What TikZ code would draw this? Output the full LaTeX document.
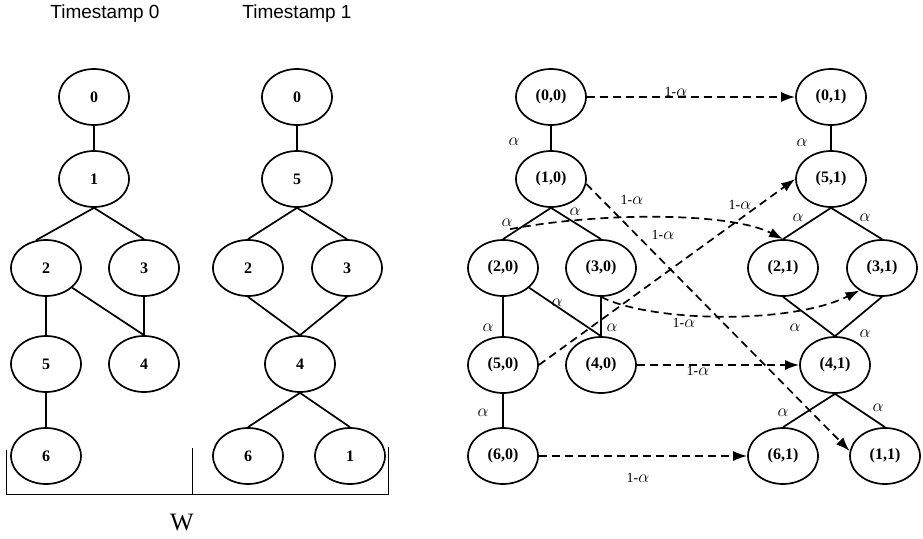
\documentclass[tikz,border=0pt]{standalone}
\usepackage{fontspec}
\setmainfont{Liberation Serif}
\newfontfamily\labelsans{Liberation Sans}
\usetikzlibrary{shapes.geometric,arrows.meta,calc}
% weight symbol, a little larger than the surrounding text
\newcommand\wgt{{\fontsize{18}{18}\selectfont$\alpha$}}

\begin{document}
\begin{tikzpicture}[x=1pt,y=-1pt,
  vtx/.style={ellipse,draw,line width=1.7pt,minimum width=70pt,minimum height=56pt,
    inner sep=0pt,font=\bfseries\fontsize{16}{16}\selectfont},
  edge/.style={line width=1.7pt},
  trans/.style={line width=1.7pt,dash pattern=on 8pt off 5pt,
    -{Latex[length=14pt,width=10pt]}},
  wt/.style={inner sep=0pt,font=\fontsize{14}{14}\selectfont},
  caption/.style={inner sep=0pt,anchor=base,font=\labelsans\fontsize{19}{19}\selectfont},
]
\useasboundingbox (0,0) rectangle (923,538);

% ---- tree at timestamp 0 ----
\node[caption] (cap0) at (105,18) {Timestamp 0};
\node[vtx] (a0) at (94,97) {0};
\node[vtx] (a1) at (94,179) {1};
\node[vtx] (a2) at (46,268) {2};
\node[vtx] (a3) at (144,268) {3};
\node[vtx] (a5) at (46,364) {5};
\node[vtx] (a4) at (144,364) {4};
\node[vtx] (a6) at (46,456) {6};
\draw[edge] (a0) -- (a1);
\draw[edge] (a1.south) -- (a2.110);
\draw[edge] (a1.south) -- (a3.north);
\draw[edge] (a2) -- (a5);
\draw[edge] (a2.-37) -- (a4.north);
\draw[edge] (a3) -- (a4);
\draw[edge] (a5) -- (a6);

% ---- tree at timestamp 1 ----
\node[caption] (cap1) at (297,18) {Timestamp 1};
\node[vtx] (b0) at (297,97) {0};
\node[vtx] (b5) at (297,179) {5};
\node[vtx] (b2) at (248,268) {2};
\node[vtx] (b3) at (347,268) {3};
\node[vtx] (b4) at (300,364) {4};
\node[vtx] (b6) at (248,456) {6};
\node[vtx] (b1) at (350,456) {1};
\draw[edge] (b0) -- (b5);
\draw[edge] (b5.south) -- (b2.north);
\draw[edge] (b5.south) -- (b3.north);
\draw[edge] (b2.south) -- (b4.north);
\draw[edge] (b3.south) -- (b4.north);
\draw[edge] (b4.south) -- (b6.north);
\draw[edge] (b4.south) -- (b1.north);

% ---- window bracket ----
\draw[line width=1pt] (6,450) -- (6,494) -- (388,494) -- (388,447);
\draw[line width=1pt] (192,448) -- (192,494);
\node[inner sep=0pt,anchor=base,font=\fontsize{25}{25}\selectfont] (wlab) at (182,530) {W};

% ---- combined graph: layer 0 ----
\node[vtx] (n00) at (551,97) {(0,0)};
\node[vtx] (n10) at (551,179) {(1,0)};
\node[vtx] (n20) at (503,268) {(2,0)};
\node[vtx] (n30) at (601,268) {(3,0)};
\node[vtx] (n50) at (503,365) {(5,0)};
\node[vtx] (n40) at (601,365) {(4,0)};
\node[vtx] (n60) at (503,456) {(6,0)};
\draw[edge] (n00) -- (n10);
\draw[edge] (n10.south) -- (n20.north);
\draw[edge] (n10.south) -- (n30.north);
\draw[edge] (n20) -- (n50);
\draw[edge] (n20.-37) -- (n40.north);
\draw[edge] (n30) -- (n40);
\draw[edge] (n50) -- (n60);

% ---- combined graph: layer 1 ----
\node[vtx] (n01) at (831,97) {(0,1)};
\node[vtx] (n51) at (831,179) {(5,1)};
\node[vtx] (n21) at (783,268) {(2,1)};
\node[vtx] (n31) at (882,268) {(3,1)};
\node[vtx] (n41) at (835,365) {(4,1)};
\node[vtx] (n61) at (783,456) {(6,1)};
\node[vtx] (n11) at (885,456) {(1,1)};
\draw[edge] (n01) -- (n51);
\draw[edge] (n51.south) -- (n21.north);
\draw[edge] (n51.south) -- (n31.north);
\draw[edge] (n21.south) -- (n41.north);
\draw[edge] (n31.south) -- (n41.north);
\draw[edge] (n41.south) -- (n61.north);
\draw[edge] (n41.south) -- (n11.north);

% ---- edge weights ----
\node[wt] (w1) at (514,142) {\wgt};
\node[wt] (w2) at (507,223) {\wgt};
\node[wt] (w3) at (575,212) {\wgt};
\node[wt] (w4) at (488,328) {\wgt};
\node[wt] (w5) at (557,303) {\wgt};
\node[wt] (w6) at (612,328) {\wgt};
\node[wt] (w7) at (483,413) {\wgt};
\node[wt] (w8) at (802,143) {\wgt};
\node[wt] (w9) at (798,218) {\wgt};
\node[wt] (w10) at (865,218) {\wgt};
\node[wt] (w11) at (795,328) {\wgt};
\node[wt] (w12) at (865,334) {\wgt};
\node[wt] (w13) at (783,413) {\wgt};
\node[wt] (w14) at (878,408) {\wgt};

% ---- transitions between layers ----
\draw[trans] (n00.east) -- (n01.west);
\draw[trans] (n10.-8) -- (n11.172);
\draw[trans] ($(n20.north)+(7,-10)$) .. controls (600,212) and (730,212) .. (n21.north);
\draw[trans] (n30.south) .. controls (650,322) and (790,325) .. (n31.225);
\draw[trans] (n40.east) -- (n41.west);
\draw[trans] (n50.east) -- (n51.west);
\draw[trans] (n60.east) -- (n61.west);

\node[wt] (t0) at (676,92) {1-\wgt};
\node[wt] (t1) at (632,200) {1-\wgt};
\node[wt] (t2) at (663,235) {1-\wgt};
\node[wt] (t5) at (740,205) {1-\wgt};
\node[wt] (t3) at (684,323) {1-\wgt};
\node[wt] (t4) at (698,371) {1-\wgt};
\node[wt] (t6) at (638,478) {1-\wgt};
\end{tikzpicture}
\end{document}
